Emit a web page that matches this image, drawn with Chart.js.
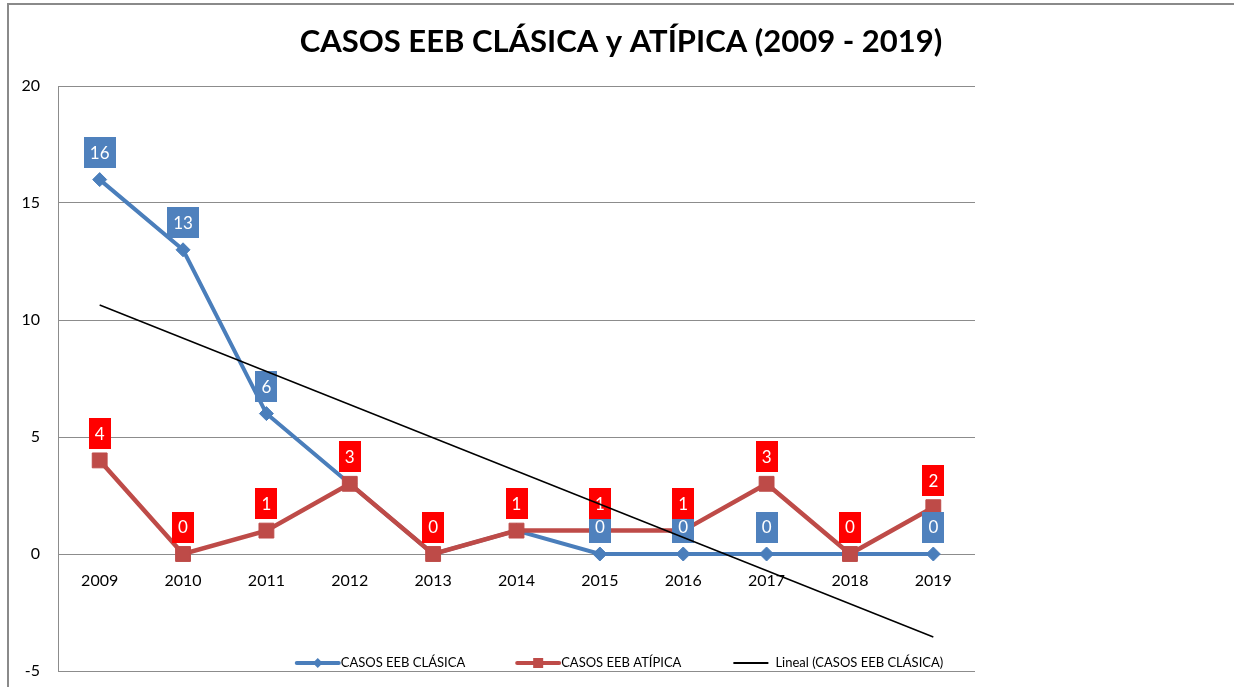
<!DOCTYPE html>
<html>
<head>
<meta charset="utf-8">
<script src="https://cdn.jsdelivr.net/npm/chart.js@4.4.1/dist/chart.umd.min.js"></script>
<style>
  html, body { margin: 0; padding: 0; background: #ffffff; }
  #wrap { position: relative; width: 1234px; height: 687px; }
</style>
</head>
<body>
<div id="wrap"><canvas id="chart" width="1234" height="687"></canvas></div>
<script>
// Data
const years = ['2009', '2010', '2011', '2012', '2013', '2014', '2015', '2016', '2017', '2018', '2019'];
const clasica = [16, 13, 6, 3, 0, 1, 0, 0, 0, 0, 0];
const atipica = [4, 0, 1, 3, 0, 1, 1, 1, 3, 0, 2];
// Linear trend of CASOS EEB CLÁSICA, ends
const trendClasica = [10.64, null, null, null, null, null, null, null, null, null, -3.55];

const chartTitle = 'CASOS EEB CLÁSICA y ATÍPICA (2009 - 2019)';
const legendNames = ['CASOS EEB CLÁSICA', 'CASOS EEB ATÍPICA', 'Lineal (CASOS EEB CLÁSICA)'];

const FONT = "Lato, 'Open Sans', sans-serif";
const BLUE = '#4A7EBB';
const BLUE_BOX = '#4F81BD';
const RED = '#BE4B48';
const RED_BOX = '#FF0000';
const GRID = '#8C8C8C';

// Draws the value boxes above the points
function drawValueBoxes(chart, dsIndex, boxColor) {
  const ctx = chart.ctx;
  const meta = chart.getDatasetMeta(dsIndex);
  const values = chart.data.datasets[dsIndex].data;
  ctx.save();
  ctx.font = '17px ' + FONT;
  ctx.textAlign = 'center';
  ctx.textBaseline = 'middle';
  meta.data.forEach((pt, i) => {
    const txt = String(values[i]);
    const w = ctx.measureText(txt).width + 12;
    const h = 31;
    const cy = pt.y - 27;
    ctx.fillStyle = boxColor;
    ctx.fillRect(Math.round(pt.x - w / 2), Math.round(cy - h / 2), Math.round(w), h);
    ctx.fillStyle = '#ffffff';
    ctx.fillText(txt, pt.x, cy + 1);
  });
  ctx.restore();
}

const excelLook = {
  id: 'excelLook',
  afterDatasetDraw(chart, args) {
    // labels go on after the two series and under the trend line
    if (args.index === 1) {
      drawValueBoxes(chart, 0, BLUE_BOX);
      drawValueBoxes(chart, 1, RED_BOX);
    }
  },
  afterDraw(chart) {
    const ctx = chart.ctx;
    ctx.save();

    // outer frame
    ctx.strokeStyle = '#8A8A8A';
    ctx.lineWidth = 2;
    ctx.beginPath();
    ctx.moveTo(8, 700);
    ctx.lineTo(8, 4);
    ctx.lineTo(1240, 4);
    ctx.stroke();

    // title
    ctx.fillStyle = '#000000';
    ctx.font = 'bold 31px ' + FONT;
    ctx.textAlign = 'center';
    ctx.textBaseline = 'middle';
    ctx.fillText(chartTitle, 621, 42);

    // legend inside the plot, near the bottom
    ctx.font = '13px ' + FONT;
    ctx.textAlign = 'left';
    const sample = 42, gap = 52, y = 663;
    const widths = legendNames.map(n => ctx.measureText(n).width);
    const total = widths.reduce((a, b) => a + b, 0) + 3 * (sample + 2) + 2 * gap;
    let x = 621 - total / 2;
    const styles = [
      { color: BLUE, width: 4, marker: 'diamond' },
      { color: RED, width: 4, marker: 'square' },
      { color: '#000000', width: 2, marker: null }
    ];
    legendNames.forEach((name, i) => {
      const s = styles[i];
      const lineLen = s.marker ? sample : 35;
      ctx.strokeStyle = s.color;
      ctx.lineWidth = s.width;
      ctx.lineCap = s.marker ? 'round' : 'butt';
      ctx.beginPath();
      ctx.moveTo(x, y);
      ctx.lineTo(x + lineLen, y);
      ctx.stroke();
      const mx = x + lineLen / 2;
      ctx.fillStyle = s.color;
      if (s.marker === 'diamond') {
        ctx.beginPath();
        ctx.moveTo(mx, y - 5);
        ctx.lineTo(mx + 5, y);
        ctx.lineTo(mx, y + 5);
        ctx.lineTo(mx - 5, y);
        ctx.closePath();
        ctx.fill();
      } else if (s.marker === 'square') {
        ctx.fillRect(mx - 5, y - 5, 10, 10);
      }
      ctx.fillStyle = '#000000';
      ctx.textBaseline = 'middle';
      const tx = x + lineLen + (s.marker ? 2 : 7);
      ctx.fillText(name, tx, y);
      x = tx + widths[i] + gap;
    });
    ctx.restore();
  }
};

const ctx = document.getElementById('chart').getContext('2d');
new Chart(ctx, {
  type: 'line',
  data: {
    labels: years,
    datasets: [
      {
        label: legendNames[0],
        data: clasica,
        borderColor: BLUE,
        backgroundColor: BLUE,
        borderWidth: 4,
        pointStyle: 'rectRot',
        pointRadius: 7,
        pointBorderWidth: 1,
        pointBackgroundColor: BLUE,
        pointBorderColor: BLUE,
        tension: 0,
        order: 3
      },
      {
        label: legendNames[1],
        data: atipica,
        borderColor: RED,
        backgroundColor: RED,
        borderWidth: 4.5,
        pointStyle: 'rect',
        pointRadius: 10.5,
        pointBorderWidth: 1,
        pointBackgroundColor: RED,
        pointBorderColor: RED,
        tension: 0,
        order: 2
      },
      {
        label: legendNames[2],
        data: trendClasica,
        borderColor: '#000000',
        borderWidth: 1.5,
        pointRadius: 0,
        spanGaps: true,
        tension: 0,
        order: 1
      }
    ]
  },
  options: {
    responsive: false,
    animation: false,
    events: [],
    layout: {
      padding: { top: 86, right: 259, bottom: 16, left: 0 }
    },
    plugins: {
      legend: { display: false },
      title: { display: false },
      tooltip: { enabled: false }
    },
    scales: {
      x: {
        type: 'category',
        position: { y: 0 },
        offset: true,
        grid: { display: false, drawTicks: false },
        border: { display: false },
        ticks: {
          color: '#000000',
          padding: 17,
          maxRotation: 0,
          font: { family: FONT, size: 16 }
        }
      },
      y: {
        min: -5,
        max: 20,
        afterFit(scale) {
          scale.width = 58;
          // keep the label padding from eating the plot height
          scale.paddingTop = 0;
          scale.paddingBottom = 0;
        },
        grid: { color: GRID, lineWidth: 1, drawTicks: false },
        border: { display: true, color: GRID, width: 1 },
        ticks: {
          stepSize: 5,
          color: '#000000',
          padding: 18,
          font: { family: FONT, size: 16 }
        }
      }
    }
  },
  plugins: [excelLook]
});
</script>
</body>
</html>
